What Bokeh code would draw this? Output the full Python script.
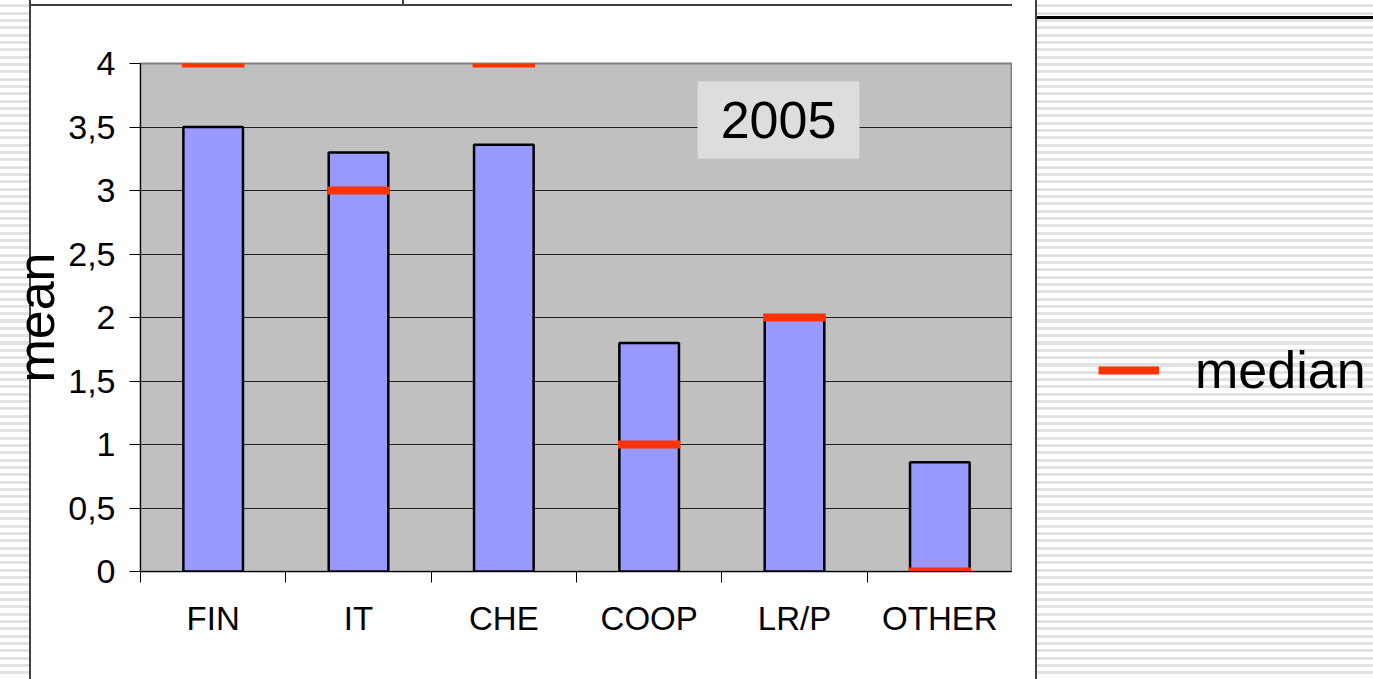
import numpy as np
from bokeh.plotting import figure
from bokeh.layouts import row
from bokeh.models import (FixedTicker, CustomJSTickFormatter, Legend, LegendItem,
                          Label, BoxAnnotation, Range1d)
from bokeh.embed import file_html
from bokeh.resources import INLINE

# ---- data ----
categories = ["FIN", "IT", "CHE", "COOP", "LR/P", "OTHER"]
mean_values = [3.5, 3.30, 3.36, 1.80, 1.99, 0.86]
median_values = [4, 3, 4, 1, 2, 0]
y_ticks = [0, 0.5, 1, 1.5, 2, 2.5, 3, 3.5, 4]
year_label = "2005"
legend_label = "median"

xpos = np.arange(len(categories)) + 0.5
bar_w = 0.41
med_w = 0.43
MED_COLOR = "#FF3300"

STRIPES = "repeating-linear-gradient(to bottom, #ffffff 0px, #ffffff 4.3px, #e2e2e2 4.3px, #e2e2e2 7.33px)"

# ---------------- main chart ----------------
p = figure(width=1012, height=679, output_backend="svg", toolbar_location=None,
           x_range=Range1d(0, len(categories)), y_range=Range1d(0, 4),
           min_border_left=140, min_border_right=0, min_border_top=63,
           min_border_bottom=108)

p.border_fill_color = None
p.background_fill_color = "#C0C0C0"
p.outline_line_color = "#808080"
p.outline_line_width = 2

p.styles = {
    "background-image": (
        "linear-gradient(#404040, #404040), "
        "linear-gradient(#404040, #404040), "
        "linear-gradient(to right, transparent 29px, #404040 29px, #404040 31px, #ffffff 31px), "
        + STRIPES
    ),
    "background-size": "982px 2px, 2px 5px, 100% 100%, 100% 100%",
    "background-position": "30px 4px, 402px 0px, 0 0, 0 0",
    "background-repeat": "no-repeat, no-repeat, no-repeat, repeat",
}

# bars
p.vbar(x=xpos, top=mean_values, width=bar_w, bottom=0,
       fill_color="#9999FF", line_color="#000000", line_width=2.5)

# medians
p.segment(x0=xpos - med_w / 2, x1=xpos + med_w / 2, y0=median_values, y1=median_values,
          line_color=MED_COLOR, line_width=8, line_cap="butt")

# grid
p.xgrid.grid_line_color = None
p.ygrid.ticker = FixedTicker(ticks=y_ticks)
p.ygrid.grid_line_color = "#202020"
p.ygrid.grid_line_width = 1

# y axis
p.yaxis.ticker = FixedTicker(ticks=y_ticks)
p.yaxis.formatter = CustomJSTickFormatter(code="return tick.toString().replace('.', ',');")
p.yaxis.major_label_text_font = "Liberation Sans"
p.yaxis.major_label_text_font_size = "34px"
p.yaxis.major_label_text_color = "#000000"
p.yaxis.major_tick_out = 11
p.yaxis.major_tick_in = 0
p.yaxis.major_tick_line_color = "#000000"
p.yaxis.minor_tick_line_color = None
p.yaxis.axis_line_color = "#000000"
p.yaxis.major_label_standoff = 14
p.yaxis.axis_label = "mean"
p.yaxis.axis_label_text_font = "Liberation Sans"
p.yaxis.axis_label_text_font_size = "52px"
p.yaxis.axis_label_text_font_style = "normal"
p.yaxis.axis_label_text_color = "#000000"
p.yaxis.axis_label_standoff = 0

# x axis
p.xaxis.ticker = FixedTicker(ticks=list(xpos), minor_ticks=list(range(len(categories) + 1)))
p.xaxis.formatter = CustomJSTickFormatter(args=dict(cats=categories),
                                          code="return cats[Math.floor(tick)];")
p.xaxis.major_tick_line_color = None
p.xaxis.major_tick_out = 0
p.xaxis.major_tick_in = 0
p.xaxis.minor_tick_line_color = "#000000"
p.xaxis.minor_tick_out = 11
p.xaxis.minor_tick_in = 0
p.xaxis.axis_line_color = "#000000"
p.xaxis.major_label_text_font = "Liberation Sans"
p.xaxis.major_label_text_font_size = "33px"
p.xaxis.major_label_text_color = "#000000"
p.xaxis.major_label_standoff = 17

# year box
box = BoxAnnotation(left=3.833, right=4.947, bottom=3.252, top=3.858,
                    fill_color="#DDDDDD", fill_alpha=1.0, line_color=None)
p.add_layout(box)
p.add_layout(Label(x=4.39, y=3.555, text=year_label, text_align="center",
                   text_baseline="middle", text_font="Liberation Sans",
                   text_font_size="52px", text_color="#000000"))

# ---------------- legend panel ----------------
# same median series, kept out of this panel's view; it only feeds the legend
p2 = figure(width=361, height=679, output_backend="svg", toolbar_location=None,
            x_range=Range1d(100, 101), y_range=Range1d(100, 101),
            min_border=0, x_axis_location=None, y_axis_location=None)
p2.grid.grid_line_color = None
p2.outline_line_color = None
p2.border_fill_color = None
p2.background_fill_color = None
p2.styles = {
    "background-image": (
        "linear-gradient(#000000, #000000), "
        "linear-gradient(to right, #ffffff 23px, #404040 23px, #404040 25px, transparent 25px), "
        + STRIPES
    ),
    "background-size": "336px 3px, 100% 100%, 100% 100%",
    "background-position": "25px 16px, 0 0, 0 0",
    "background-repeat": "no-repeat, no-repeat, repeat",
}
leg_r = p2.segment(x0=xpos - med_w / 2, x1=xpos + med_w / 2, y0=median_values, y1=median_values,
                   line_color=MED_COLOR, line_width=8, line_cap="butt")
legend = Legend(items=[LegendItem(label=legend_label, renderers=[leg_r])],
                location=(86, 171), padding=0, margin=0,
                border_line_color=None, background_fill_alpha=0,
                glyph_width=61, glyph_height=20, label_standoff=36,
                label_text_font="Liberation Sans", label_text_font_size="52px",
                label_text_color="#000000")
p2.add_layout(legend)

layout = row(p, p2, spacing=0)
open("out.html", "w").write(file_html(layout, INLINE))
